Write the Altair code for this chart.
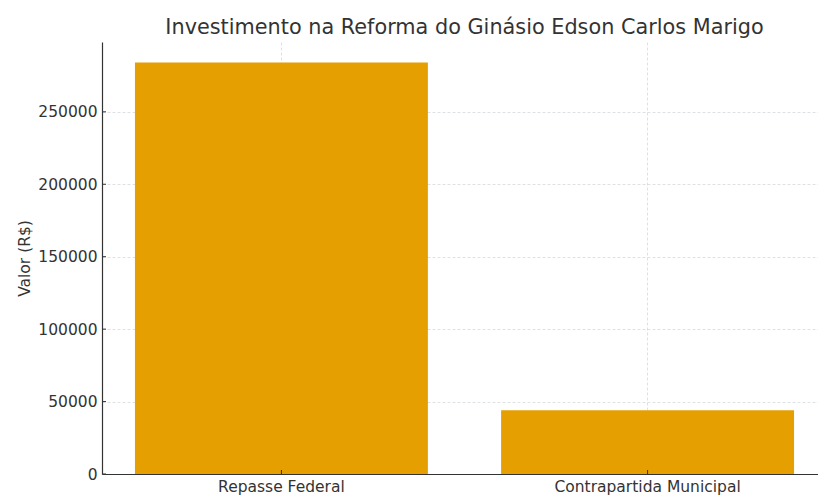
import altair as alt
import pandas as pd

categories = ["Repasse Federal", "Contrapartida Municipal"]
values = [284000, 44000]
y_ticks = [0, 50000, 100000, 150000, 200000, 250000]

df = pd.DataFrame({"cat": categories, "val": values})
ticks_df = pd.DataFrame({"t": y_ticks})

W = 716
H = 432
FONT = "DejaVu Sans"
TXT = "#333333"
GRID = "#d0d4d8"

xscale = alt.Scale(domain=categories, range=[0, 725], paddingInner=0.2, paddingOuter=0.09)
yscale = alt.Scale(domain=[0, 298200], nice=False, zero=True)

bars = alt.Chart(df).mark_bar(color="#E69F00").encode(
    x=alt.X("cat:N", scale=xscale, sort=categories, title=None,
            axis=alt.Axis(labelAngle=0, labelFontSize=15.5, labelFont=FONT, labelColor=TXT,
                          labelLimit=0, tickSize=0, labelPadding=5,
                          domainColor="#333333", domainWidth=1.2,
                          grid=True, gridColor=GRID, gridDash=[3, 2], gridWidth=0.7)),
    y=alt.Y("val:Q", scale=yscale, title="Valor (R$)",
            axis=alt.Axis(values=y_ticks, format="d", labelFontSize=15.5, labelFont=FONT,
                          labelColor=TXT, tickSize=0, labelPadding=5,
                          titleFontSize=15.5, titleFont=FONT, titleColor=TXT,
                          titleFontWeight="normal", titlePadding=5,
                          domainColor="#333333", domainWidth=1.2,
                          grid=True, gridColor=GRID, gridDash=[3, 2], gridWidth=0.7)),
)

yt = alt.Chart(ticks_df).mark_rule(color="#333333", strokeWidth=1).encode(
    y=alt.Y("t:Q", scale=yscale), x=alt.value(0), x2=alt.value(4)
)
xt = alt.Chart(df).mark_rule(color="#333333", strokeWidth=1).encode(
    x=alt.X("cat:N", scale=xscale, sort=categories, bandPosition=0.5),
    y=alt.value(H), y2=alt.value(H - 4)
)

chart = alt.layer(bars, yt, xt).properties(
    width=W, height=H,
    title=alt.TitleParams("Investimento na Reforma do Ginásio Edson Carlos Marigo",
                          fontSize=20.8, font=FONT, color=TXT, fontWeight="normal",
                          anchor="middle", dx=4.5, offset=3),
    autosize=alt.AutoSizeParams(type="none"),
    padding={"left": 94, "top": 34, "right": 0, "bottom": 24},
).configure(background="white").configure_view(stroke=None)

chart.save("out.html", embed_options={"renderer": "svg", "actions": False})
